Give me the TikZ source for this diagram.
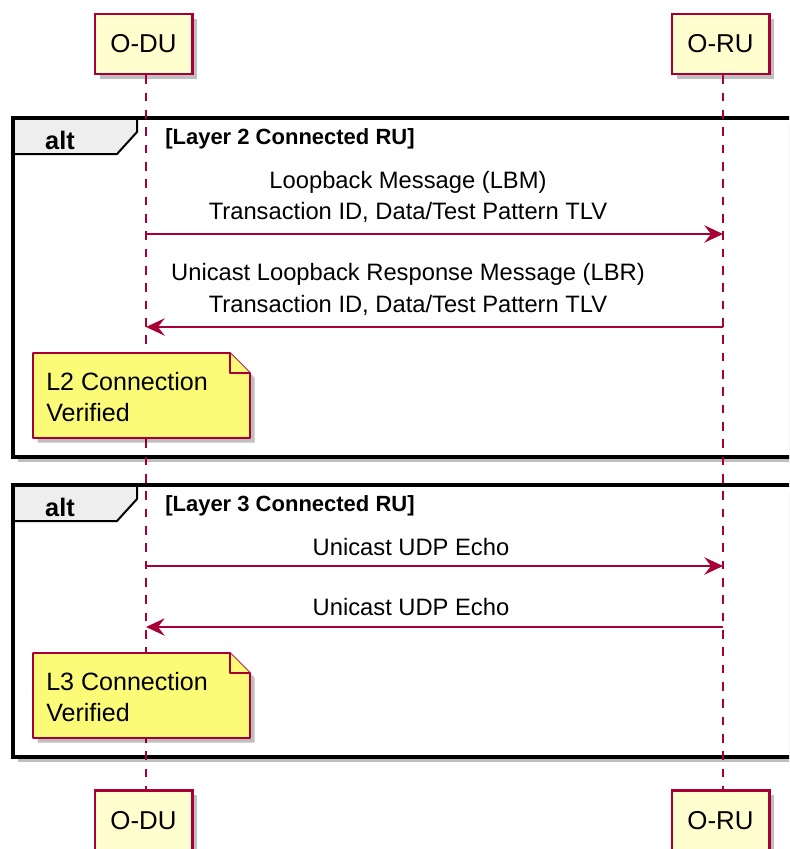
\documentclass[tikz,border=0pt]{standalone}
\usepackage{fontspec}
\setmainfont{Liberation Sans}
\usetikzlibrary{arrows.meta, shadows}
\definecolor{umlred}{HTML}{A80036}
\definecolor{partfill}{HTML}{FEFECE}
\definecolor{notefill}{HTML}{FBFB77}
\definecolor{tabfill}{HTML}{EEEEEE}

\begin{document}
\begin{tikzpicture}[x=0.75pt,y=0.75pt,yscale=-1,xscale=1,
  participant/.style={draw=umlred, line width=2pt, fill=partfill, minimum width=73pt, minimum height=45pt, inner sep=0pt, font=\fontsize{19.4}{23}\selectfont, drop shadow={shadow xshift=3.5pt, shadow yshift=-3.5pt, fill=black, opacity=0.25}},
  lifeline/.style={umlred, line width=1.3pt, dash pattern=on 6.5pt off 6.5pt},
  msg/.style={umlred, line width=1.3pt, -{Stealth[length=14pt,width=13pt,inset=5pt]}},
  msglabel/.style={font=\fontsize{17.8}{23.6}\selectfont, align=center, inner sep=0pt},
  framebg/.style={fill=white, drop shadow={shadow xshift=3.5pt, shadow yshift=-3.5pt, fill=black, opacity=0.25}},
  frameline/.style={draw=black, line width=2.6pt},
  tabline/.style={draw=black, line width=1.5pt},
  notebox/.style={draw=umlred, line width=1.3pt, fill=notefill, line join=round},
  notetext/.style={font=\fontsize{18.8}{22.6}\selectfont, align=left, inner sep=0pt, anchor=west}
]
\useasboundingbox (0,0) rectangle (789,849);
\clip (0,0) rectangle (789,849);

% Alt frames
\path[framebg] (13,118) rectangle (810,457);
\fill[tabfill] (13,118) -- (137,118) -- (137,132) -- (117,154) -- (13,154) -- cycle;
\draw[tabline] (137,118) -- (137,132) -- (117,154) -- (13,154);
\draw[frameline] (13,118) rectangle (810,457);
\node[font=\bfseries\fontsize{19}{22}\selectfont, inner sep=0pt] (altOne) at (60,140) {alt};
\node[font=\bfseries\fontsize{16.5}{20}\selectfont, inner sep=0pt, anchor=west] (condOne) at (165,139) {[Layer 2 Connected RU]};

\path[framebg] (13,485) rectangle (810,757);
\fill[tabfill] (13,485) -- (137,485) -- (137,499) -- (117,521) -- (13,521) -- cycle;
\draw[tabline] (137,485) -- (137,499) -- (117,521) -- (13,521);
\draw[frameline] (13,485) rectangle (810,757);
\node[font=\bfseries\fontsize{19}{22}\selectfont, inner sep=0pt] (altTwo) at (60,507) {alt};
\node[font=\bfseries\fontsize{16.5}{20}\selectfont, inner sep=0pt, anchor=west] (condTwo) at (165,506) {[Layer 3 Connected RU]};

% Participants
\node[participant] (oduTop) at (143.5,44) {O-DU};
\node[participant] (oruTop) at (720.5,44) {O-RU};
\node[participant] (oduBot) at (143.5,820.5) {O-DU};
\node[participant] (oruBot) at (720.5,820.5) {O-RU};

% Lifelines
\draw[lifeline] ([xshift=1.9pt]oduTop.south) -- ([xshift=1.9pt]oduBot.north);
\draw[lifeline] ([xshift=1.9pt]oruTop.south) -- ([xshift=1.9pt]oruBot.north);

% Messages
\coordinate (oduA) at (146,234);  \coordinate (oruA) at (723,234);
\coordinate (oduB) at (146,327);  \coordinate (oruB) at (723,327);
\coordinate (oduC) at (146,566);  \coordinate (oruC) at (723,566);
\coordinate (oduD) at (146,627);  \coordinate (oruD) at (723,627);

\draw[msg] (oduA) -- (oruA);
\node[msglabel] (lbmText) at (408,197) {Loopback Message (LBM)\\Transaction ID, Data/Test Pattern TLV};
\draw[msg] (oruB) -- (oduB);
\node[msglabel] (lbrText) at (408,289.5) {Unicast Loopback Response Message (LBR)\\Transaction ID, Data/Test Pattern TLV};
\draw[msg] (oduC) -- (oruC);
\node[msglabel] (udpReqText) at (411,547.5) {Unicast UDP Echo};
\draw[msg] (oruD) -- (oduD);
\node[msglabel] (udpRspText) at (411,607.5) {Unicast UDP Echo};

% Notes
\draw[notebox, drop shadow={shadow xshift=3.5pt, shadow yshift=-3.5pt, fill=black, opacity=0.25}] (33,353) -- (230,353) -- (250,373) -- (250,438) -- (33,438) -- cycle;
\draw[notebox] (230,353) -- (230,373) -- (250,373);
\node[notetext] (noteOne) at (46,397) {L2 Connection\\Verified};

\draw[notebox, drop shadow={shadow xshift=3.5pt, shadow yshift=-3.5pt, fill=black, opacity=0.25}] (33,653) -- (230,653) -- (250,673) -- (250,738) -- (33,738) -- cycle;
\draw[notebox] (230,653) -- (230,673) -- (250,673);
\node[notetext] (noteTwo) at (46,697) {L3 Connection\\Verified};

\end{tikzpicture}
\end{document}
